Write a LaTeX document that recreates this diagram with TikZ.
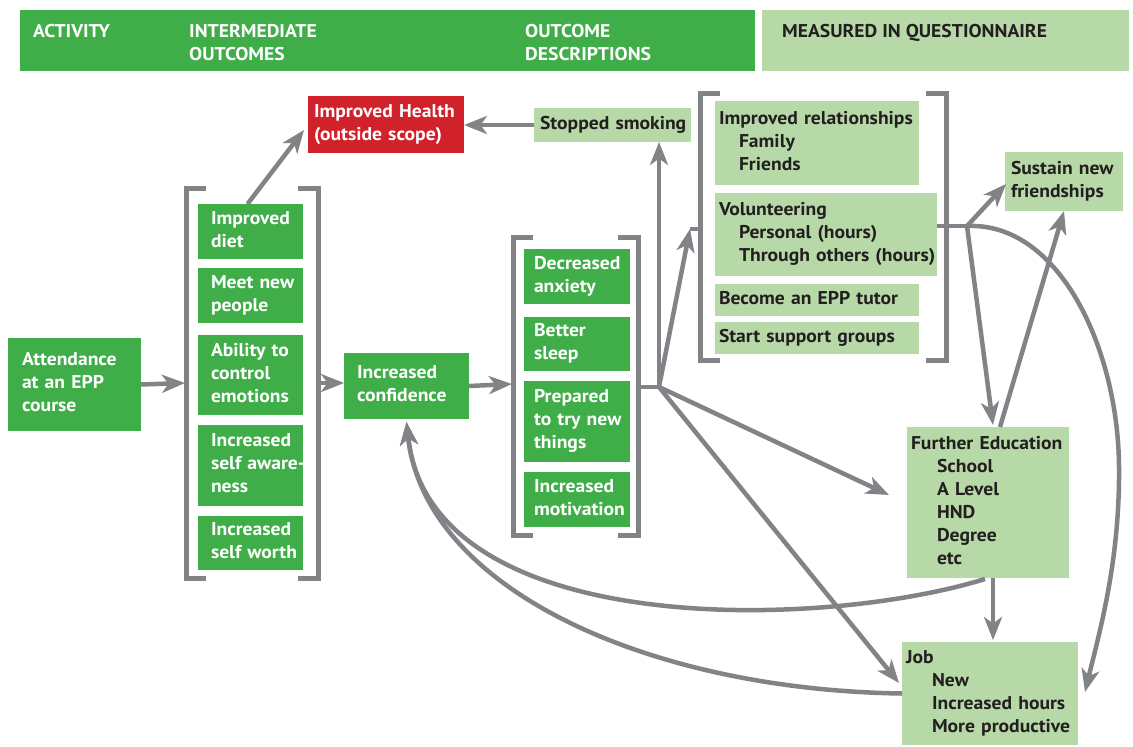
\documentclass[tikz,border=0pt]{standalone}
\usepackage{fontspec}
\setmainfont{PT Sans}[FakeStretch=1.06]
\usetikzlibrary{arrows.meta}
\definecolor{dg}{HTML}{3FAE49}
\definecolor{lg}{HTML}{B6D9A7}
\definecolor{rd}{HTML}{D1212A}
\definecolor{gy}{HTML}{818387}
\definecolor{tx}{HTML}{231F20}
\begin{document}
\begin{tikzpicture}[x=1pt,y=-1pt,
 every node/.style={font=\fontsize{18.5}{23}\selectfont\bfseries},
 box/.style={anchor=north west, inner ysep=0pt, align=left, outer sep=0pt,
   execute at end node={\rule[-4.6pt]{0pt}{4.6pt}}},
 dbox/.style={box, fill=dg, text=white},
 lbox/.style={box, fill=lg, text=tx},
 rbox/.style={box, fill=rd, text=white},
 bar/.style={anchor=north west, inner sep=0pt, outer sep=0pt},
 hdt/.style={anchor=base west, inner sep=0pt},
 arr/.style={draw=gy, line width=4.5pt, -{Stealth[length=23pt,width=18pt,inset=6.5pt]}},
 ln/.style={draw=gy, line width=4.5pt},
 brk/.style={draw=gy, line width=5pt, line join=miter},
]
\useasboundingbox (0,0) rectangle (1133,747);

% header
\node[bar, fill=dg, minimum width=735pt, minimum height=61pt] (hd1) at (20,10) {};
\node[bar, fill=lg, minimum width=367pt, minimum height=61pt] (hd2) at (762,10) {};
\node[hdt, text=white] (ha) at (33,37.5) {ACTIVITY};
\node[hdt, text=white] (hb1) at (189,37.5) {INTERMEDIATE};
\node[hdt, text=white] (hb2) at (189,60.5) {OUTCOMES};
\node[hdt, text=white] (hc1) at (525,37.5) {OUTCOME};
\node[hdt, text=white] (hc2) at (525,60.5) {DESCRIPTIONS};
\node[hdt, text=tx] (hd) at (782,37.5) {MEASURED IN QUESTIONNAIRE};

% brackets
\draw[brk] (206,188) -- (186,188) -- (186,578) -- (206,578);
\draw[brk] (298,188) -- (318,188) -- (318,578) -- (298,578);
\draw[brk] (533,237) -- (513,237) -- (513,535) -- (533,535);
\draw[brk] (618,237) -- (638,237) -- (638,535) -- (618,535);
\draw[brk] (720,93) -- (700,93) -- (700,360) -- (720,360);
\draw[brk] (926,93) -- (946,93) -- (946,360) -- (926,360);

% activity and intermediate outcomes
\node[dbox, minimum width=133pt, minimum height=93pt, inner xsep=14pt, text width=105pt] (att) at (8,338) {Attendance\\\mbox{at an EPP}\\course};
\node[dbox, minimum width=105pt, minimum height=55pt, inner xsep=13pt, text width=79pt] (diet) at (198,204) {Improved\\diet};
\node[dbox, minimum width=105pt, minimum height=55pt, inner xsep=13pt, text width=79pt] (meet) at (198,268) {\mbox{Meet new}\\people};
\node[dbox, minimum width=105pt, minimum height=80pt, inner xsep=13pt, text width=79pt] (abil) at (198,335) {\mbox{Ability to}\\control\\emotions};
\node[dbox, minimum width=105pt, minimum height=81pt, inner xsep=13pt, text width=79pt] (aware) at (198,425) {Increased\\\mbox{self aware-}\\ness};
\node[dbox, minimum width=105pt, minimum height=54pt, inner xsep=13pt, text width=79pt] (worth) at (198,516) {Increased\\\mbox{self worth}};
\node[dbox, minimum width=125pt, minimum height=66pt, inner xsep=13pt, text width=99pt] (conf) at (344,353) {Increased\\confidence};
\node[rbox, minimum width=156pt, minimum height=57pt, inner xsep=6pt, text width=144pt] (health) at (308,96) {\mbox{Improved Health}\\\mbox{(outside scope)}};

% outcome descriptions
\node[dbox, minimum width=106pt, minimum height=55pt, inner xsep=10pt, text width=86pt] (anx) at (524,249) {Decreased\\anxiety};
\node[dbox, minimum width=106pt, minimum height=54pt, inner xsep=10pt, text width=86pt] (sleep) at (524,317) {Better\\sleep};
\node[dbox, minimum width=106pt, minimum height=81pt, inner xsep=10pt, text width=86pt] (prep) at (524,381) {Prepared\\\mbox{to try new}\\things};
\node[dbox, minimum width=106pt, minimum height=55pt, inner xsep=10pt, text width=86pt] (motiv) at (524,472) {Increased\\motivation};

% measured
\node[lbox, minimum width=157pt, minimum height=34pt, inner xsep=6pt, text width=145pt] (smoke) at (534,108) {\mbox{Stopped smoking}};
\node[lbox, minimum width=204pt, minimum height=84pt, inner xsep=4pt, text width=196pt] (rel) at (715,101) {\mbox{Improved relationships}\\\hspace*{20pt}Family\\\hspace*{20pt}Friends};
\node[lbox, minimum width=222pt, minimum height=83pt, inner xsep=4pt, text width=214pt] (vol) at (715,193) {Volunteering\\\hspace*{20pt}\mbox{Personal (hours)}\\\hspace*{20pt}\mbox{Through others (hours)}};
\node[lbox, minimum width=204pt, minimum height=32pt, inner xsep=4pt, text width=196pt] (tutor) at (715,284) {\mbox{Become an EPP tutor}};
\node[lbox, minimum width=204pt, minimum height=32pt, inner xsep=4pt, text width=196pt] (sup) at (715,322) {\mbox{Start support groups}};
\node[lbox, minimum width=118pt, minimum height=59pt, inner xsep=6pt, text width=106pt] (sus) at (1005,152) {\mbox{Sustain new}\\friendships};
\node[lbox, minimum width=162pt, minimum height=151pt, inner xsep=4pt, text width=154pt] (fe) at (907,427) {\mbox{Further Education}\\\hspace*{26pt}School\\\hspace*{26pt}\mbox{A Level}\\\hspace*{26pt}HND\\\hspace*{26pt}Degree\\\hspace*{26pt}etc};
\node[lbox, minimum width=176pt, minimum height=103pt, inner xsep=4pt, text width=168pt] (job) at (902,642) {Job\\\hspace*{26pt}New\\\hspace*{26pt}\mbox{Increased hours}\\\hspace*{26pt}\mbox{More productive}};

% connection points
\coordinate (b1in) at (185,383);
\coordinate (b1out) at (318,383);
\coordinate (b2in) at (512,384);
\coordinate (b2out) at (638,387);
\coordinate (J) at (659,387);
\coordinate (s3) at (690,229);
\coordinate (b3in) at (700,229);
\coordinate (fetip) at (889,495);
\coordinate (jobtip) at (899,683);
\coordinate (V) at (967,226);
\coordinate (sustip) at (1006,184);
\coordinate (htip) at (304,130);
\coordinate (fecurve) at (985,579);
\coordinate (jobcurvetip) at (1085,692);

% connectors
\draw[arr] (att.east) -- (b1in);
\draw[arr] (b1out) -- (conf.west |- b1out);
\draw[arr] (conf.east) -- (b2in);
\draw[arr] ([xshift=-3pt]diet.north) -- (htip);
\draw[arr] (smoke.west) -- (health.east |- smoke.west);
\draw[ln] (b2out) -- (J);
\draw[arr] (J) -- (J |- smoke.south);
\draw[ln] (s3) -- (b3in);
\draw[arr] (J) -- (s3);
\draw[arr] (J) -- (fetip);
\draw[arr] (J) -- (jobtip);
\draw[ln] (vol.east |- V) -- (V);
\draw[arr] (V) -- (sustip);
\draw[arr] (V) -- ([xshift=5pt,yshift=2pt]fe.north);
\draw[arr] ([xshift=12pt]fe.north) -- (sus.south);
\draw[arr] (V) .. controls (1060,222) and (1118,350) .. (1119,466) .. controls (1120,560) and (1100,630) .. (jobcurvetip);
\draw[arr] ([xshift=5pt]fe.south) -- ([xshift=5pt,yshift=2pt]fe.south |- job.north);
\draw[arr] (fecurve) .. controls (820,630) and (430,640) .. ([yshift=-3pt]conf.south);
\draw[arr] (job.west) .. controls (650,690) and (425,590) .. ([yshift=-3pt]conf.south);
\end{tikzpicture}
\end{document}
